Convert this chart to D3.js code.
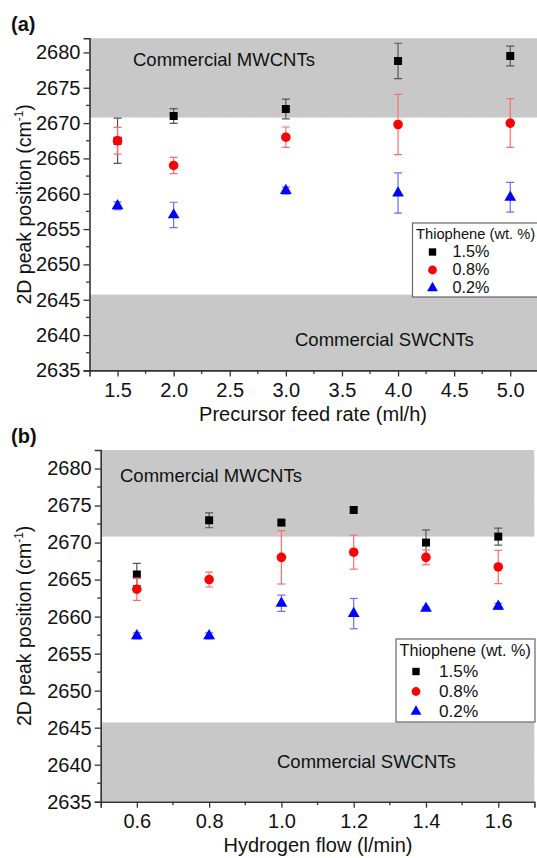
<!DOCTYPE html>
<html>
<head>
<meta charset="utf-8">
<script src="https://cdn.jsdelivr.net/npm/d3@7"></script>
<style>
  body { margin: 0; background: #fff; }
  text { font-family: Arial, "Liberation Sans", sans-serif; fill: #111; }
</style>
</head>
<body>
<div id="main"></div>
<script>

// data (a) - precursor feed rate
const rateA = [1.5, 2.0, 3.0, 4.0, 5.0];
const a15 = [2667.5, 2671.0, 2672.0, 2678.8, 2679.5];
const a15Err = [3.2, 1.05, 1.4, 2.5, 1.4];
const a08 = [2667.5, 2664.0, 2668.0, 2669.8, 2670.0];
const a08Err = [1.9, 1.15, 1.45, 4.25, 3.45];
const a02 = [2658.3, 2657.0, 2660.45, 2660.1, 2659.5];
const a02Err = [0.55, 1.8, 0.5, 2.85, 2.1];

// data (b) - hydrogen flow
const flowB = [0.6, 0.8, 1.0, 1.2, 1.4, 1.6];
const b15 = [2665.7, 2673.0, 2672.7, 2674.4, 2670.0, 2670.8];
const b15Err = [1.5, 1.0, 0.3, 0.3, 1.7, 1.15];
const b08 = [2663.7, 2665.0, 2668.0, 2668.7, 2668.0, 2666.7];
const b08Err = [1.5, 1.0, 3.6, 2.3, 1.0, 2.25];
const b02 = [2657.4, 2657.4, 2661.8, 2660.4, 2661.1, 2661.4];
const b02Err = [0.4, 0.4, 1.1, 2.05, 0.2, 0.4];

// bands and ticks
const mwBand = [2670.8, 2690];
const swBand = [2600, 2645.7];
const yTicks = [2635, 2640, 2645, 2650, 2655, 2660, 2665, 2670, 2675, 2680];
const xTicksA = [1.5, 2.0, 2.5, 3.0, 3.5, 4.0, 4.5, 5.0];
const xTicksB = [0.6, 0.8, 1.0, 1.2, 1.4, 1.6];
const legendLabels = ['1.5%', '0.8%', '0.2%'];

const W = 537, H = 858;
const svg = d3.select('#main').append('svg').attr('width', W).attr('height', H);

const series = [
    { name: '1.5%', shape: d3.symbolSquare, size: 64, color: '#000', errColor: '#555' },
    { name: '0.8%', shape: d3.symbolCircle, size: 72, color: '#ff0000', errColor: '#ff6b6b' },
    { name: '0.2%', shape: d3.symbolTriangle, size: 60, color: '#0000ff', errColor: '#6b6bff' }
];

function panel(cfg) {
    const x = d3.scaleLinear().domain(cfg.xDomain).range(cfg.xRange);
    const y = d3.scaleLinear().domain(cfg.yDomain).range(cfg.yRange);
    const g = svg.append('g');
    const clipId = 'clip' + cfg.tag;

    g.append('clipPath').attr('id', clipId).append('rect')
        .attr('x', cfg.xRange[0]).attr('y', cfg.yRange[1])
        .attr('width', cfg.xRange[1] - cfg.xRange[0])
        .attr('height', cfg.yRange[0] - cfg.yRange[1]);

    const plot = g.append('g').attr('clip-path', `url(#${clipId})`);

    // shaded bands
    [mwBand, swBand].forEach(b => {
        plot.append('rect')
            .attr('x', cfg.xRange[0])
            .attr('width', cfg.xRange[1] - cfg.xRange[0])
            .attr('y', y(b[1]))
            .attr('height', y(b[0]) - y(b[1]))
            .attr('fill', '#c8c8c8')
            .attr('stroke', '#dcdcdc')
            .attr('stroke-dasharray', '2,1');
    });

    g.append('text').attr('x', cfg.mwText[0]).attr('y', cfg.mwText[1])
        .attr('font-size', 18.5).text('Commercial MWCNTs');
    g.append('text').attr('x', cfg.swText[0]).attr('y', cfg.swText[1])
        .attr('font-size', 18.5).text('Commercial SWCNTs');

    // axes
    const yAxis = d3.axisLeft(y).tickValues(yTicks).tickSize(6).tickPadding(3).tickFormat(d3.format('d'));
    const xAxis = d3.axisBottom(x).tickValues(cfg.xTicks).tickSize(6).tickPadding(6).tickFormat(d3.format('.1f'));

    const ya = g.append('g').attr('transform', `translate(${cfg.xRange[0]},0)`).call(yAxis);
    const xa = g.append('g').attr('transform', `translate(0,${cfg.yRange[0]})`).call(xAxis);

    // minor ticks
    const yMinor = yTicks.map(d => d + 2.5).filter(d => d < cfg.yDomain[1]);
    ya.selectAll('.minor').data(yMinor).enter().append('line')
        .attr('x1', 0).attr('x2', -3.5)
        .attr('y1', d => y(d)).attr('y2', d => y(d))
        .attr('stroke', '#333').attr('stroke-width', 1.3);
    const step = cfg.xTicks[1] - cfg.xTicks[0];
    const xMinor = [cfg.xTicks[0] - step / 2].concat(cfg.xTicks.map(d => d + step / 2))
        .filter(d => d > cfg.xDomain[0] && d < cfg.xDomain[1]);
    xa.selectAll('.minor').data(xMinor).enter().append('line')
        .attr('y1', 0).attr('y2', 3.5)
        .attr('x1', d => x(d)).attr('x2', d => x(d))
        .attr('stroke', '#333').attr('stroke-width', 1.3);

    [ya, xa].forEach(a => {
        a.select('.domain').attr('stroke', '#333').attr('stroke-width', 1.6);
        a.selectAll('.tick line').attr('stroke', '#333').attr('stroke-width', 1.3);
        a.selectAll('.tick text').attr('font-size', 20).attr('fill', '#111')
            .style('font-family', 'Arial, "Liberation Sans", sans-serif');
    });

    // axis titles
    g.append('text')
        .attr('transform', `translate(${cfg.yTitleX},${(cfg.yRange[0] + cfg.yRange[1]) / 2}) rotate(-90)`)
        .attr('text-anchor', 'middle').attr('font-size', 19.5)
        .html('2D peak position (cm<tspan font-size="12" dy="-8">-1</tspan><tspan dy="8">)</tspan>');

    g.append('text').attr('x', cfg.xTitle[0]).attr('y', cfg.xTitle[1])
        .attr('text-anchor', 'middle').attr('font-size', 20).text(cfg.xLabel);

    g.append('text').attr('x', 11).attr('y', cfg.tagY)
        .attr('font-size', 20).attr('font-weight', 'bold').text(`(${cfg.tag})`);

    // error bars and points
    cfg.data.forEach((s, i) => {
        const st = series[i];
        const pts = cfg.xs.map((d, j) => ({ x: d, v: s.v[j], e: s.e[j] }));
        const eg = plot.append('g').attr('stroke', st.errColor).attr('stroke-width', 1.2);
        pts.forEach(p => {
            eg.append('line').attr('x1', x(p.x)).attr('x2', x(p.x))
                .attr('y1', y(p.v - p.e)).attr('y2', y(p.v + p.e));
            [p.v - p.e, p.v + p.e].forEach(c => {
                eg.append('line').attr('x1', x(p.x) - 4).attr('x2', x(p.x) + 4)
                    .attr('y1', y(c)).attr('y2', y(c));
            });
        });
        plot.append('g').selectAll('path').data(pts).enter().append('path')
            .attr('d', d3.symbol().type(st.shape).size(st.size))
            .attr('transform', d => `translate(${x(d.x)},${y(d.v)})`)
            .attr('fill', st.color);
    });

    // legend
    const L = cfg.legend;
    const lg = g.append('g').attr('transform', `translate(${L.x},${L.y})`);
    lg.append('rect').attr('width', L.w).attr('height', L.h)
        .attr('fill', '#fff').attr('stroke', '#666').attr('stroke-width', 1.2);
    lg.append('text').attr('x', 3.5).attr('y', L.titleY).attr('font-size', L.titleFont).text('Thiophene (wt. %)');
    legendLabels.forEach((l, i) => {
        const st = series[i];
        const cy = L.first + i * L.gap;
        lg.append('path')
            .attr('d', d3.symbol().type(st.shape).size(st.size * 0.85))
            .attr('transform', `translate(${L.sym},${cy})`)
            .attr('fill', st.color);
        lg.append('text').attr('x', L.lab).attr('y', cy + L.font * 0.36)
            .attr('font-size', L.font + 1).text(l);
    });
}

panel({
    tag: 'a', tagY: 31,
    xDomain: [1.25, 5.25], xRange: [89.5, 538.3],
    yDomain: [2635, 2682], yRange: [370.4, 38.3],
    xTicks: xTicksA, xs: rateA,
    data: [{ v: a15, e: a15Err }, { v: a08, e: a08Err }, { v: a02, e: a02Err }],
    mwText: [133, 66], swText: [295, 346],
    yTitleX: 31, xTitle: [313, 421], xLabel: 'Precursor feed rate (ml/h)',
    legend: { x: 412.5, y: 223, w: 130, h: 74, font: 15.2, titleFont: 14.7, titleY: 15.5, first: 29, gap: 18, sym: 20, lab: 40 }
});

panel({
    tag: 'b', tagY: 443,
    xDomain: [0.5, 1.7], xRange: [100.7, 534.4],
    yDomain: [2635, 2682.5], yRange: [801.7, 450],
    xTicks: xTicksB, xs: flowB,
    data: [{ v: b15, e: b15Err }, { v: b08, e: b08Err }, { v: b02, e: b02Err }],
    mwText: [120, 482], swText: [277, 768],
    yTitleX: 31, xTitle: [318, 852], xLabel: 'Hydrogen flow (l/min)',
    legend: { x: 396, y: 639, w: 139, h: 83, font: 16.2, titleFont: 16.2, titleY: 17, first: 32.5, gap: 20, sym: 20, lab: 43 }
});

</script>
</body>
</html>
